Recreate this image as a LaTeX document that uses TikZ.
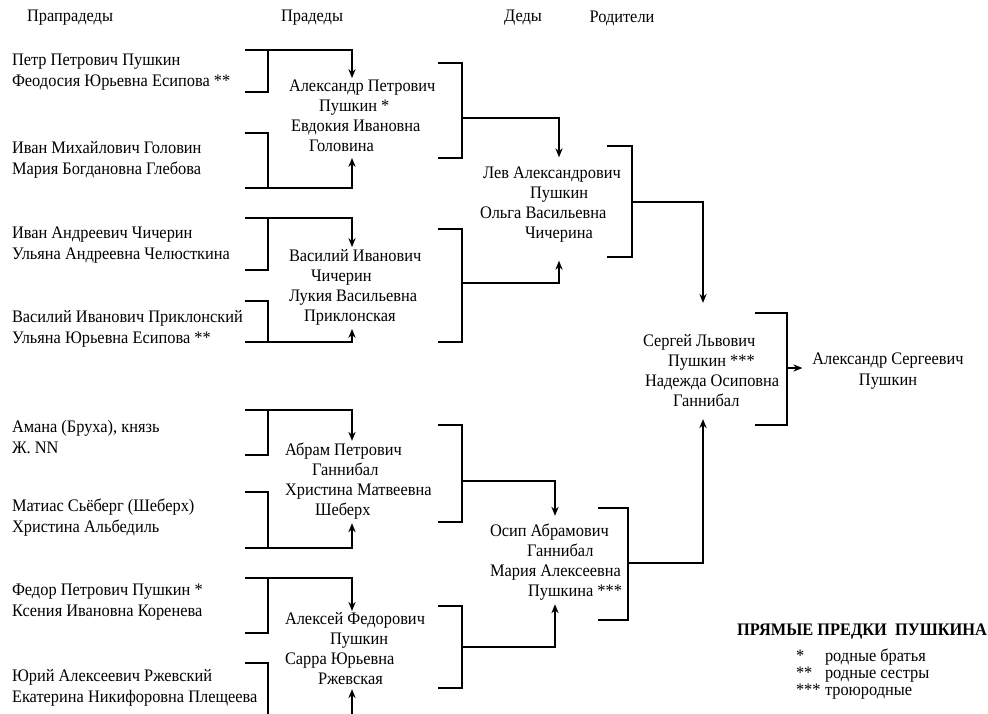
\documentclass[tikz,border=0pt]{standalone}
\usepackage{fontspec}
\setmainfont{Liberation Serif}[FakeStretch=0.93]
\usetikzlibrary{arrows.meta}
\newlength\pxunit
\setlength\pxunit{0.5pt}
\newcommand\indby[1]{\hspace*{#1\pxunit}}
\begin{document}
\begin{tikzpicture}[x=0.5pt,y=-0.5pt,
  txt/.style={inner sep=0pt, outer sep=0pt, font=\fontsize{8.8}{10.5}\selectfont},
  hdr/.style={txt},
  pair/.style={txt, anchor=west, align=left},
  cpl/.style={txt, anchor=west, align=left, font=\fontsize{8.8}{10}\selectfont},
  ln/.style={line width=1pt},
  lnt/.style={line width=0.8pt},
  arr/.style={line width=1pt, -{Stealth[length=4.5pt,width=3.6pt]}},
  arrt/.style={line width=0.8pt, -{Stealth[length=4.5pt,width=3.6pt]}},
  leg/.style={txt, anchor=base west},
]
\useasboundingbox (0,0) rectangle (988,713);
\clip (0,0) rectangle (988,713);
\fill[white] (0,0) rectangle (988,713);

% headers
\node[hdr] (h1) at (70,18) {Прапрадеды};
\node[hdr] (h2) at (312,18) {Прадеды};
\node[hdr] (h3) at (523,18) {Деды};
\node[hdr] (h4) at (622,18) {Родители};

% great-great-grandparents
\node[pair] (p1) at (12,72) {Петр Петрович Пушкин\\Феодосия Юрьевна Есипова **};
\node[pair] (p2) at (12,160) {Иван Михайлович Головин\\Мария Богдановна Глебова};
\node[pair] (p3) at (12,245) {Иван Андреевич Чичерин\\Ульяна Андреевна Челюсткина};
\node[pair] (p4) at (12,329) {Василий Иванович Приклонский\\Ульяна Юрьевна Есипова **};
\node[pair] (p5) at (12,437) {Амана (Бруха), князь\\Ж. NN};
\node[pair] (p6) at (12,518) {Матиас Сьёберг (Шеберх)\\Христина Альбедиль};
\node[pair] (p7) at (12,602) {Федор Петрович Пушкин *\\Ксения Ивановна Коренева};
\node[pair] (p8) at (12,688) {Юрий Алексеевич Ржевский\\Екатерина Никифоровна Плещеева};

% great-grandparents
\node[cpl] (c1) at (289,116) {Александр Петрович\\\indby{30}Пушкин *\\\indby{2}Евдокия Ивановна\\\indby{20}Головина};
\node[cpl] (c2) at (289,287) {Василий Иванович\\\indby{22}Чичерин\\Лукия Васильевна\\\indby{15}Приклонская};
\node[cpl] (c3) at (285,481) {Абрам Петрович\\\indby{27}Ганнибал\\Христина Матвеевна\\\indby{30}Шеберх};
\node[cpl] (c4) at (285,649) {Алексей Федорович\\\indby{45}Пушкин\\Сарра Юрьевна\\\indby{33}Ржевская};

% grandparents
\node[cpl] (lev) at (480,205) {\indby{3}Лев Александрович\\\indby{50}Пушкин\\Ольга Васильевна\\\indby{45}Чичерина};
\node[cpl] (osip) at (490,562) {Осип Абрамович\\\indby{37}Ганнибал\\Мария Алексеевна\\\indby{38}Пушкина ***};

% parents
\node[cpl] (serg) at (643,371) {Сергей Львович\\\indby{25}Пушкин ***\\\indby{2}Надежда Осиповна\\\indby{30}Ганнибал};

% poet
\node[txt, align=center] (ash) at (888,371) {Александр Сергеевич\\Пушкин};

% legend
\node[txt, font=\fontsize{8.8}{10.5}\selectfont\bfseries] (title) at (862,632) {ПРЯМЫЕ ПРЕДКИ\ \ ПУШКИНА};
\node[leg] (s1) at (796,661) {*};
\node[leg] (s2) at (796,678) {**};
\node[leg] (s3) at (796,695) {***};
\node[leg] (l1) at (825,661) {родные братья};
\node[leg] (l2) at (825,678) {родные сестры};
\node[leg] (l3) at (825,695) {троюродные};

% arrow columns
\coordinate (ax1) at (352,0);
\coordinate (ax2) at (559,0);
\coordinate (ax3) at (555,0);
\coordinate (ax4) at (703,0);

% level 1 brackets
\draw[ln] (245,92) -| (268,50);
\draw[arr, shorten >=1pt] (245,50) -| (c1.north -| ax1);
\draw[ln] (245,133) -| (268,188);
\draw[arr, shorten >=3pt] (245,188) -| (c1.south -| ax1);
\draw[ln] (245,270) -| (268,218);
\draw[arr, shorten >=1pt] (245,218) -| (c2.north -| ax1);
\draw[ln] (245,301) -| (268,342);
\draw[arr, shorten >=2pt] (245,342) -| (c2.south -| ax1);
\draw[ln] (245,455) -| (268,410);
\draw[arr, shorten >=1pt] (245,410) -| (c3.north -| ax1);
\draw[ln] (245,492) -| (268,548);
\draw[arr, shorten >=2pt] (245,548) -| (c3.south -| ax1);
\draw[ln] (245,633) -| (268,578);
\draw[arr, shorten >=1pt] (245,578) -| (c4.north -| ax1);
\draw[ln] (245,663) -| (268,724);
\draw[arr, shorten >=2pt] (268,724) -| (c4.south -| ax1);

% level 2 brackets
\draw[lnt] (438,63) -| (462,158) -- (438,158);
\draw[arrt, shorten >=5pt] (462,118) -| (lev.north -| ax2);
\draw[lnt] (438,229) -| (462,342) -- (438,342);
\draw[arrt, shorten >=9pt] (462,283) -| (lev.south -| ax2);
\draw[lnt] (438,425) -| (462,522) -- (438,522);
\draw[arrt, shorten >=4pt] (462,481) -| (osip.north -| ax3);
\draw[ln] (438,606) -| (462,688) -- (438,688);
\draw[arr, shorten >=2pt] (462,647) -| (osip.south -| ax3);

% level 3 brackets
\draw[lnt] (607,146) -| (632,257) -- (607,257);
\draw[arrt, shorten >=16pt] (632,202) -| (serg.north -| ax4);
\draw[lnt] (598,508) -| (628,620) -- (598,620);
\draw[arrt, shorten >=6pt] (628,563) -| (serg.south -| ax4);

% level 4 bracket
\draw[ln] (755,313) -| (787,425) -- (755,425);
\coordinate (sm) at (787,368);
\draw[arr, shorten >=5pt] (sm) -- (sm -| ash.west);
\end{tikzpicture}
\end{document}
